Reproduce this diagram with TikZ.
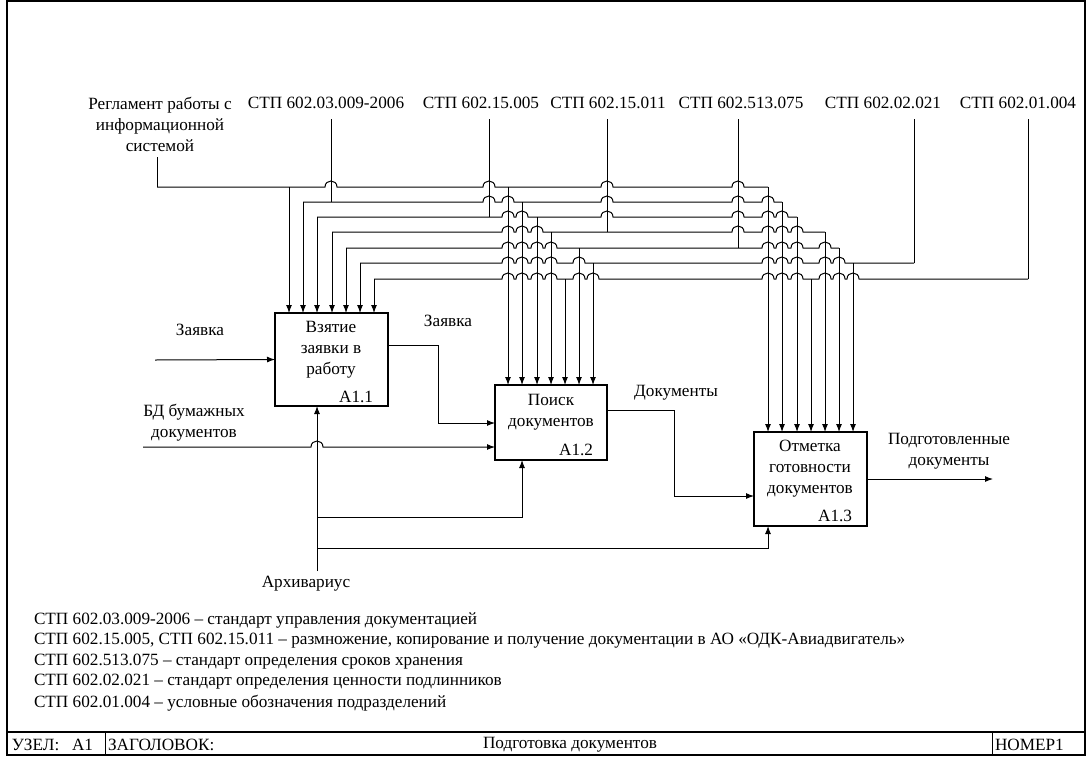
\documentclass[tikz,border=0pt]{standalone}
\usepackage{fontspec}
\setmainfont{Liberation Serif}
\usetikzlibrary{arrows.meta}
% horizontal control bus with jump-overs: {y}{x start}{x end}{jump xs}
\newcommand\ctlbus[4]{%
  \draw (#2,#1) \foreach \j in {#4}{ -- (\j-6,#1) .. controls (\j-6,#1-8) and (\j+6,#1-8) .. (\j+6,#1) } -- (#3,#1);}
\begin{document}
\begin{tikzpicture}[x=1pt,y=-1pt,line width=1pt,
  every node/.style={font=\fontsize{17.2}{21}\selectfont,inner sep=0pt,outer sep=0pt},
  lbl/.style={align=center},
  box/.style={draw,line width=1.3pt},
  arr/.style={-{Latex[length=8pt,width=6pt]}}]
\useasboundingbox (0,0) rectangle (1091,763);
% frame
\draw[line width=1.5pt] (7,1) rectangle (1085,755);
\draw[line width=1.5pt] (7,732) -- (1085,732);
\draw (105,732) -- (105,755);
\draw (992,732) -- (992,755);
\node[anchor=west] (fUz) at (12,745) {УЗЕЛ:};
\node[anchor=west] (fA) at (72,745) {А1};
\node[anchor=west] (fZ) at (108,745) {ЗАГОЛОВОК:};
\node (fT) at (570,745) {Подготовка документов};
\node[anchor=west] (fN) at (995,745) {НОМЕР1};
% boxes
\node[box,minimum width=113pt,minimum height=93pt] (b1) at (331.5,359.5) {};
\node[box,minimum width=112pt,minimum height=75pt] (b2) at (551,422.5) {};
\node[box,minimum width=113pt,minimum height=94pt] (b3) at (810.5,479) {};
\node[lbl] (t1) at (331,350) {Взятие\\заявки в\\работу};
\node[anchor=east] (n1) at (373,397) {А1.1};
\node[lbl] (t2) at (551,412.5) {Поиск\\документов};
\node[anchor=east] (n2) at (593,450) {А1.2};
\node[lbl] (t3) at (810,469) {Отметка\\готовности\\документов};
\node[anchor=east] (n3) at (852,516) {А1.3};
% top labels
\node[lbl] (cReg) at (160,124) {Регламент работы с\\информационной\\системой};
\node (c1) at (326,103) {СТП 602.03.009-2006};
\node (c2) at (481,103) {СТП 602.15.005};
\node (c3) at (608,103) {СТП 602.15.011};
\node (c4) at (741,103) {СТП 602.513.075};
\node (c5) at (883,103) {СТП 602.02.021};
\node (c6) at (1018,103) {СТП 602.01.004};
% top verticals
\draw (157,157) -- (157,187);
\draw (331,119) -- (331,202);
\draw (489,119) -- (489,217);
\draw (607,119) -- (607,232);
\draw (738,119) -- (738,248);
\draw (914,119) -- (914,263);
\draw (1028,119) -- (1028,279);
% buses
\ctlbus{187}{157}{768}{331,489,607,738}
\ctlbus{202}{303}{782}{489,508,607,738,768}
\ctlbus{217}{317}{797}{508,522,607,738,768,782}
\ctlbus{232}{332}{825}{508,522,537,738,768,782,797}
\ctlbus{248}{346}{839}{508,522,537,551,768,782,797,825}
\ctlbus{263}{360}{914}{508,522,537,551,579,768,782,797,825,839}
\ctlbus{279}{374}{1028}{508,522,537,551,579,593,768,782,797,825,839,853}
% drops
\foreach \x/\y in {289/187,303/202,317/217,332/232,346/248,360/263,374/279}
  \draw[arr] (\x,\y) -- (\x,313);
\foreach \x/\y in {508/187,522/202,537/217,551/232,565/279,579/248,593/263}
  \draw[arr] (\x,\y) -- (\x,385);
\foreach \x/\y in {768/187,782/202,797/217,811/279,825/232,839/248,853/263}
  \draw[arr] (\x,\y) -- (\x,432);
% inputs / outputs
\node (lZ1) at (200,330) {Заявка};
\coordinate (zin) at (155,360);
\draw[arr] (zin) -- (b1.west);
\node (lZ2) at (448,321) {Заявка};
\draw[arr] (388,345) -- (438,345) -- (438,423) -- (495,423);
\node[lbl] (lBD) at (194,423) {БД бумажных\\документов};
\coordinate (bdin) at (143,447);
\draw[arr] (bdin) -- (311,447) .. controls (311,439) and (323,439) .. (323,447) -- (495,447);
\node (lAr) at (306,584) {Архивариус};
\coordinate (ar) at (317,571);
\draw[arr] (ar) -- (317,406);
\draw[arr] (317,517) -- (522,517) -- (522,460);
\draw[arr] (317,548) -- (768,548) -- (768,526);
\node (lDoc) at (676,393) {Документы};
\draw[arr] (607,410) -- (674,410) -- (674,496) -- (754,496);
\node[lbl] (lOut) at (949,451.5) {Подготовленные\\документы};
\coordinate (out) at (993,479);
\draw[arr] (b3.east) -- (out);
% legend
\node[anchor=west] (g1) at (34,620) {СТП 602.03.009-2006 – стандарт управления документацией};
\node[anchor=west] (g2) at (34,641) {СТП 602.15.005, СТП 602.15.011 – размножение, копирование и получение документации в АО «ОДК-Авиадвигатель»};
\node[anchor=west] (g3) at (34,662) {СТП 602.513.075 – стандарт определения сроков хранения};
\node[anchor=west] (g4) at (34,682) {СТП 602.02.021 – стандарт определения ценности подлинников};
\node[anchor=west] (g5) at (34,703) {СТП 602.01.004 – условные обозначения подразделений};
\end{tikzpicture}
\end{document}
